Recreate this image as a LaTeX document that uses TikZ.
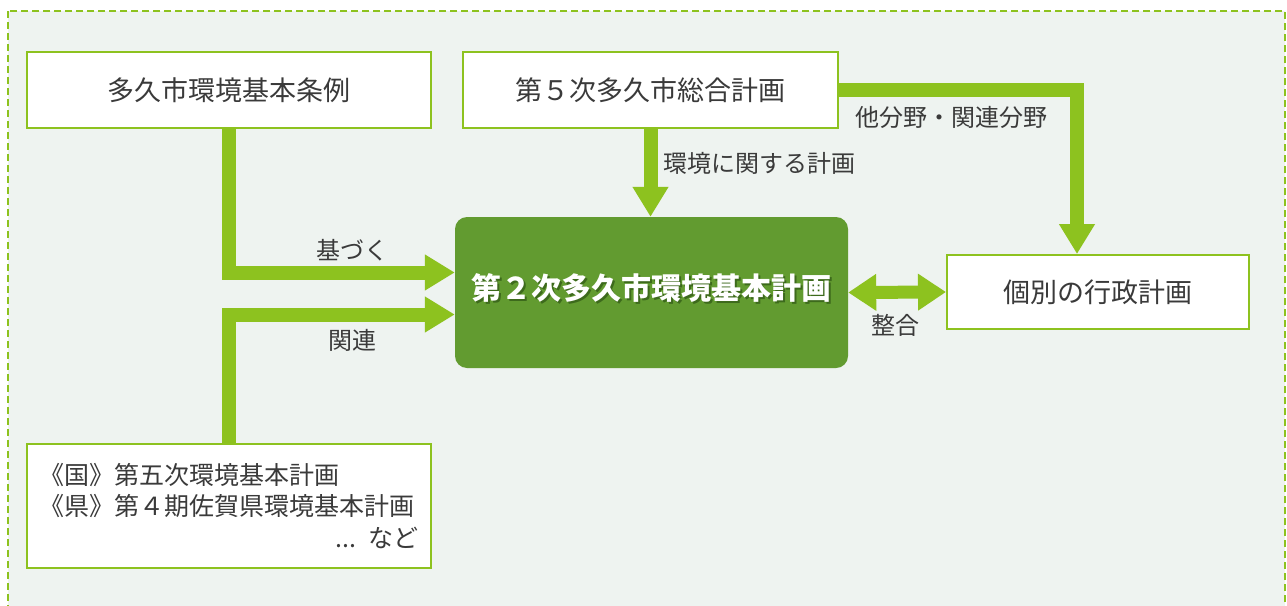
\documentclass[tikz,border=0pt]{standalone}
\usepackage{fontspec}
\setmainfont{Noto Sans CJK JP}
\usetikzlibrary{arrows.meta}
\definecolor{lg}{HTML}{8DC21F}
\definecolor{bg}{HTML}{EEF3F0}
\definecolor{dg}{HTML}{629B30}
\definecolor{sh}{HTML}{3D6A1C}
\definecolor{txt}{HTML}{3A3A3A}
\begin{document}
\begin{tikzpicture}[x=1pt,y=-1pt,
  box/.style={draw=lg, line width=2pt, fill=white, text=txt, font=\fontsize{27}{32}\selectfont, inner sep=0pt},
  flow/.style={draw=lg, line width=14pt, line join=miter, -{Triangle[length=30pt,width=34pt]}},
  lbl/.style={text=txt, font=\fontsize{24}{28}\selectfont, inner sep=0pt}]
\useasboundingbox (0,0) rectangle (1287,605);
\clip (0,0) rectangle (1287,605);
\fill[white] (0,0) rectangle (1287,605);
\draw[lg, line width=1.8pt, dash pattern=on 7pt off 4pt, fill=bg] (8,11) rectangle (1285,625);

\node[box, minimum width=404pt, minimum height=76pt] (A) at (229,90) {多久市環境基本条例};
\node[box, minimum width=375pt, minimum height=76pt] (B) at (650.5,90) {第５次多久市総合計画};
\node[fill=dg, rounded corners=12pt, minimum width=393pt, minimum height=151pt, inner sep=0pt] (C) at (651.5,292.5) {};
\node[box, minimum width=302pt, minimum height=74pt] (D) at (1098,292) {個別の行政計画};
\node[box, minimum width=404pt, minimum height=124pt, text width=380pt, align=left,
      font=\fontsize{25}{31.5}\selectfont] (E) at (229,506)
      {《国》第五次環境基本計画\\《県》第４期佐賀県環境基本計画\\\hfill ... など};

\node[text=sh, font=\fontsize{30}{34}\selectfont\bfseries, inner sep=0pt] (Cs) at ([shift={(1.6pt,2.4pt)}]C.center) {第２次多久市環境基本計画};
\node[text=white, font=\fontsize{30}{34}\selectfont\bfseries, inner sep=0pt] (Ct) at ([yshift=4pt]C.center) {第２次多久市環境基本計画};

\draw[flow] (A.south) |- ([yshift=20pt]C.west);
\draw[flow] (E.north) |- ([yshift=-22pt]C.west);
\draw[flow] (B.south) -- (B.south |- C.north);
\draw[flow] (B.east) -| ([xshift=-21pt]D.north);
\draw[draw=lg, line width=13pt, {Triangle[length=28pt,width=35pt]}-{Triangle[length=28pt,width=35pt]}] (C.east) -- (D.west);

\node[lbl] (l1) at (352,250) {基づく};
\node[lbl] (l2) at (352,340) {関連};
\node[lbl, anchor=west] (l3) at (663,163) {環境に関する計画};
\node[lbl, anchor=west] (l4) at (855,117) {他分野・関連分野};
\node[lbl] (l5) at (895,325) {整合};
\end{tikzpicture}
\end{document}
